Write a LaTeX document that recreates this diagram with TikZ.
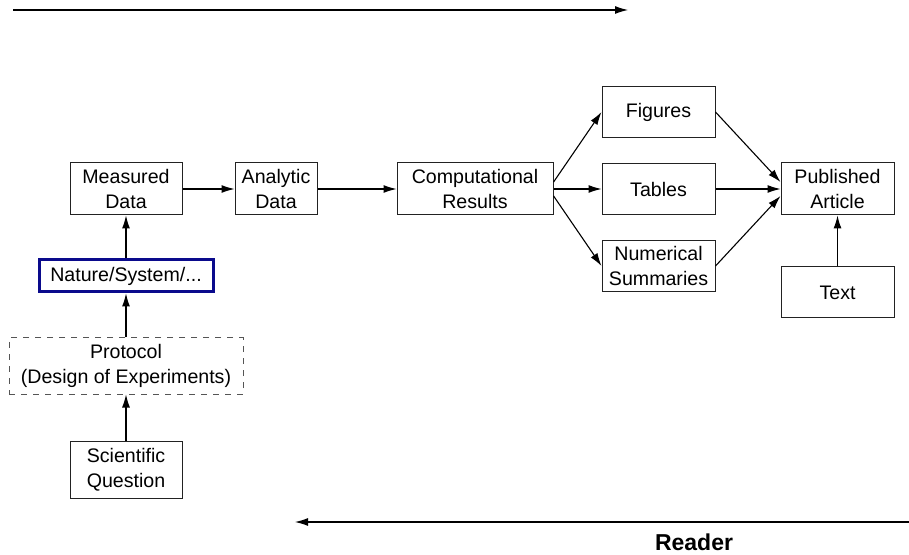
\documentclass[tikz,border=0pt]{standalone}
\usepackage{fontspec}
\setmainfont{Liberation Sans}
\usepackage{xcolor}
\definecolor{lineDark}{HTML}{222222}
\definecolor{natureBlue}{HTML}{0A0A8C}
\definecolor{protoGray}{HTML}{555555}
\usetikzlibrary{positioning,calc,arrows.meta}
\tikzset{
  stageBox/.style={
    rectangle,
    draw=lineDark,
    line width=0.5pt,
    inner sep=1pt,
    minimum width=56pt,
    minimum height=26pt,
    align=center,
    font=\fontsize{9.8}{12.5}\selectfont
 },
  natureBox/.style={
    stageBox,
    draw=natureBlue,
    line width=1.5pt,
    minimum width=87pt,
    minimum height=16pt
 },
  protoBox/.style={
    stageBox,
    draw=protoGray,
    dashed,
    minimum width=117pt,
    minimum height=28pt
 },
  arrowLine/.style={
    -{Latex[length=6.5pt,width=4pt]},
    line width=0.55pt,
    color=black
 }
}

\begin{document}
\begin{tikzpicture}
            \useasboundingbox (0,0) rectangle (454.5pt,-277.5pt);

            \node[stageBox] (measured) at (63pt,-94.5pt) {Measured\\Data};
            \node[stageBox, right=26pt of measured, minimum width=41pt] (analytic) {Analytic\\Data};
            \node[stageBox, right=39.5pt of analytic, minimum width=78pt] (comp) {Computational\\Results};
            \node[stageBox, right=24pt of comp, minimum width=56.5pt, minimum height=25.5pt] (tables) {Tables};
            \node[stageBox, above=12.5pt of tables, minimum width=56.5pt, minimum height=25.5pt] (figures) {Figures};
            \node[stageBox, below=12.5pt of tables, minimum width=56.5pt, minimum height=25.5pt] (numsum) {Numerical\\Summaries};
            \node[stageBox, right=32.5pt of tables, minimum width=56.5pt] (article) {Published\\Article};
            \node[stageBox, below=25.5pt of article, minimum width=56.5pt, minimum height=25.5pt] (text) {Text};

            \node[natureBox, below=21.5pt of measured] (nature) {Nature/System/...};
            \node[protoBox, below=22pt of nature] (protocol) {Protocol\\(Design of Experiments)};
            \node[stageBox, below=23pt of protocol, minimum height=28.5pt] (question) {Scientific\\Question};

            \draw[arrowLine] (measured) -- (analytic);
            \draw[arrowLine] (analytic) -- (comp);
            \draw[arrowLine] (comp.5) -- (figures.west);
            \draw[arrowLine] (comp) -- (tables);
            \draw[arrowLine] (comp.-5) -- (numsum.west);
            \draw[arrowLine] (figures.east) -- (article.173);
            \draw[arrowLine] (tables) -- (article);
            \draw[arrowLine] (numsum.east) -- (article.187);
            \draw[arrowLine] (text) -- (article);

            % from the question up to the measured data
            \draw[arrowLine] (question) -- (protocol);
            \draw[arrowLine] (protocol) -- (nature);
            \draw[arrowLine] (nature) -- (measured);

            % writer and reader directions
            \coordinate (writeStart) at (6.5pt,-5pt);
            \coordinate (writeEnd) at (314pt,-5pt);
            \coordinate (readStart) at (454.5pt,-261pt);
            \coordinate (readEnd) at (147.5pt,-261pt);
            \draw[arrowLine] (writeStart) -- (writeEnd);
            \draw[arrowLine] (readStart) -- (readEnd);
            \node[font=\fontsize{11.5}{13}\selectfont\bfseries] (reader) at (347pt,-271pt) {Reader};
        \end{tikzpicture}
\end{document}
